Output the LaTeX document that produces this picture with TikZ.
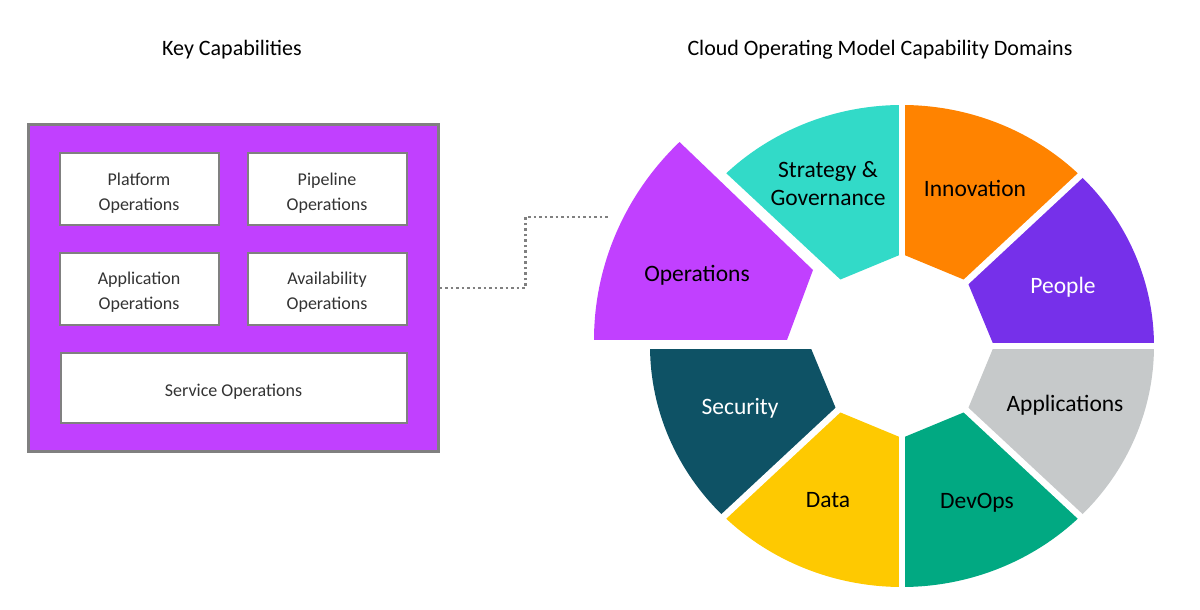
\documentclass[tikz,border=0pt]{standalone}
\usepackage{fontspec}
\setmainfont{Carlito}
\usetikzlibrary{calc}
\definecolor{opurple}{HTML}{C140FF}
\definecolor{turq}{HTML}{32DAC8}
\definecolor{orng}{HTML}{FF8300}
\definecolor{ppl}{HTML}{7630EA}
\definecolor{lgray}{HTML}{C6C9CA}
\definecolor{grn}{HTML}{01A982}
\definecolor{ylw}{HTML}{FEC901}
\definecolor{dteal}{HTML}{0E5265}
\definecolor{bordergray}{HTML}{808080}
\definecolor{txtgray}{HTML}{333333}
\newcommand{\boxstrut}{\rule{0pt}{19pt}}
\tikzset{
  title/.style={font=\fontsize{22}{26}\selectfont, text=black},
  capbox/.style={draw=bordergray, line width=2pt, fill=white, align=center,
    font=\fontsize{18}{25}\selectfont, text=txtgray, inner sep=0pt},
  outerbox/.style={draw=bordergray, line width=3pt, fill=opurple, inner sep=0pt},
  seglabel/.style={font=\fontsize{23.5}{28}\selectfont, align=center, text=black},
  dotline/.style={draw=bordergray, line width=2.5pt, dash pattern=on 2.5pt off 3pt},
  gapline/.style={draw=white, line width=6.5pt}
}
\newcommand{\sector}[3]{% color, start, end
  \fill[#1] (#2:92) -- ({252*cos(#2)},{241*sin(#2)})
    arc[start angle=#2, end angle=#3, x radius=252, y radius=241]
    -- (#3:92) -- cycle;}
\begin{document}
\begin{tikzpicture}[x=1pt,y=1pt]
\useasboundingbox (0,0) rectangle (1200,610);
% titles
\node[title] (t1) at (232,560) {Key Capabilities};
\node[title] (t2) at (880,560) {Cloud Operating Model Capability Domains};
% left box
\node[outerbox, minimum width=410pt, minimum height=327pt] (kc) at (233,322) {};
\node[capbox, minimum width=159pt, minimum height=72pt] (plat) at (139,420.5) {\boxstrut Platform\\Operations};
\node[capbox, minimum width=159pt, minimum height=72pt] (pipe) at (327,420.5) {\boxstrut Pipeline\\Operations};
\node[capbox, minimum width=159pt, minimum height=72pt] (appo) at (139,321) {\boxstrut Application\\Operations};
\node[capbox, minimum width=159pt, minimum height=72pt] (avail) at (327,321) {\boxstrut Availability\\Operations};
\node[capbox, minimum width=346pt, minimum height=70pt] (serv) at (233.5,221.5) {\boxstrut Service Operations};
% connector
\coordinate (dotend) at (610,393);
\draw[dotline] (kc.east) -- ++(86,0) |- (dotend);
% wheel
\begin{scope}[shift={(902,264)}]
  \sector{orng}{45}{90}
  \sector{turq}{90}{135}
  \sector{dteal}{180}{225}
  \sector{ylw}{225}{270}
  \sector{grn}{270}{315}
  \sector{lgray}{315}{360}
  \sector{ppl}{0}{45}
  \foreach \a in {0,45,...,315}
    \draw[gapline] ($(\a:92)!-0.3!({252*cos(\a)},{241*sin(\a)})$) -- ($(\a:92)!1.08!({252*cos(\a)},{241*sin(\a)})$);
  \fill[opurple] (-16-99,6) -- (-16-292,6)
    arc[start angle=180, end angle=135, x radius=292, y radius=280]
    -- (-16-73,6+70) -- cycle;
  \node[seglabel] (strat) at (-74,162.5) {Strategy \&\\Governance};
  \node[seglabel] (innov) at (73,158) {Innovation};
  \node[seglabel, text=white] (people) at (161,59) {People};
  \node[seglabel] (apps) at (163,-59) {Applications};
  \node[seglabel] (devops) at (75,-157) {DevOps};
  \node[seglabel] (data) at (-74,-154) {Data};
  \node[seglabel, text=white] (sec) at (-162,-62) {Security};
  \node[seglabel] (ops) at (-205,71) {Operations};
\end{scope}
\end{tikzpicture}
\end{document}
